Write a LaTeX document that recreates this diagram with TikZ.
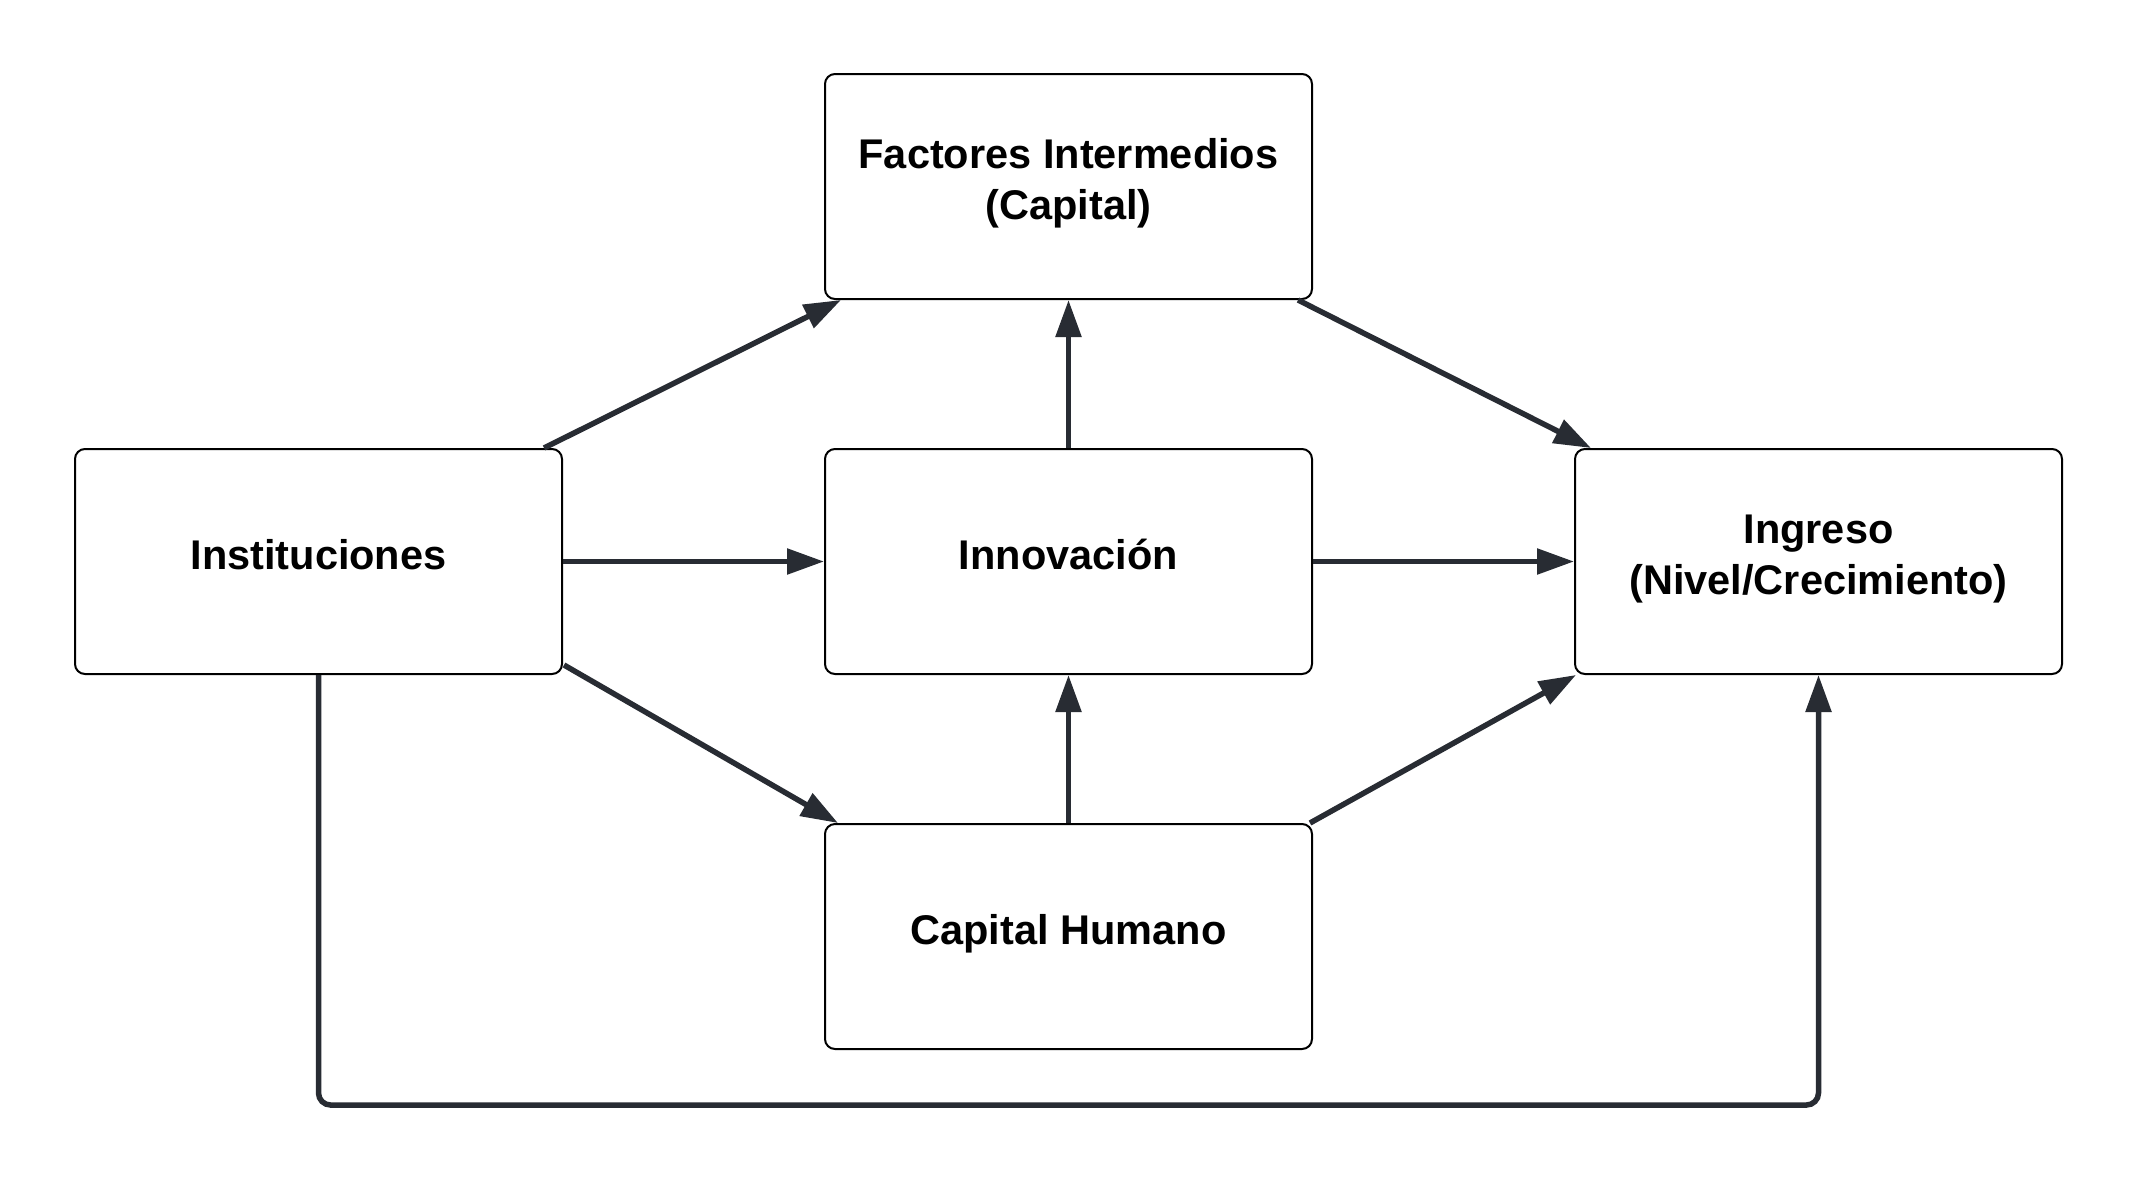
\documentclass[tikz,border=0pt]{standalone}
\usepackage{fontspec}
\setmainfont{Liberation Sans}
\usetikzlibrary{arrows.meta,calc}
\definecolor{arrowcol}{RGB}{40,44,51}
\tikzset{
  box/.style={draw=black, line width=2pt, rounded corners=10pt, fill=white,
    minimum width=487pt, minimum height=225pt, inner sep=0pt, align=center,
    text height=30pt, text depth=15pt,
    font=\bfseries\fontsize{41.5}{51}\selectfont},
  twoline/.style={text height=81pt, text depth=15pt},
  arr/.style={draw=arrowcol, line width=5.5pt, -{Triangle[length=37pt,width=25pt]}}
}
\begin{document}
\begin{tikzpicture}[x=1pt,y=-1pt]
\useasboundingbox[fill=white] (0,0) rectangle (2138,1181);
\node[box, twoline] (fact) at (1068.5,186.5) {Factores Intermedios\\(Capital)};
\node[box] (inst) at (318.5,561.5) {Instituciones};
\node[box] (innov) at (1068.5,561.5) {Innovación};
\node[box, twoline] (ing) at (1818.5,561.5) {Ingreso\\(Nivel/Crecimiento)};
\node[box] (ch) at (1068.5,936.5) {Capital Humano};
\coordinate (bot) at (0,1105);

\draw[arr] ($(inst.north east)+(-19,0)$) -- ($(fact.south west)+(17,0)$);
\draw[arr] ($(fact.south east)+(-15,0)$) -- ($(ing.north west)+(17,0)$);
\draw[arr] (inst.east) -- (innov.west);
\draw[arr] (innov.east) -- (ing.west);
\draw[arr] (innov.north) -- (fact.south);
\draw[arr] (ch.north) -- (innov.south);
\draw[arr] ($(inst.south east)+(1,-10)$) -- ($(ch.north west)+(14,0)$);
\draw[arr] ($(ch.north east)+(-3,0)$) -- ($(ing.south west)+(2,0)$);
\draw[arr, rounded corners=12pt] (inst.south) -- (inst.south |- bot) -- (ing.south |- bot) -- (ing.south);
\end{tikzpicture}
\end{document}
